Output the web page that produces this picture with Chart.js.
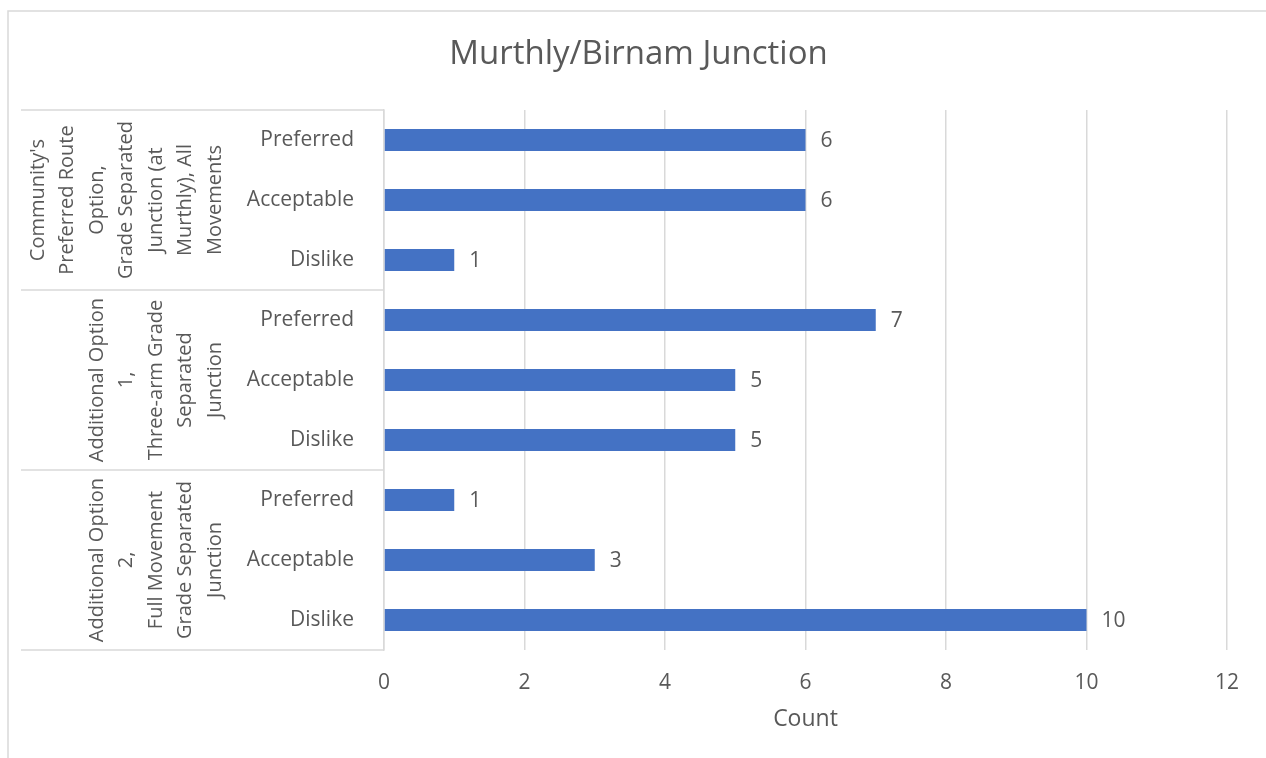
<!DOCTYPE html>
<html>
<head>
<meta charset="utf-8">
<script src="https://cdn.jsdelivr.net/npm/chart.js@4"></script>
<style>
    html, body { margin: 0; padding: 0; background: #fff; }
    #wrap { width: 1266px; height: 758px; position: relative; }
</style>
</head>
<body>
<div id="wrap"><canvas id="chart" width="1266" height="758"></canvas></div>
<script>
// Chart data
const groupNames = [
    ["Community's", "Preferred Route", "Option,", "Grade Separated", "Junction (at", "Murthly), All", "Movements"],
    ["Additional Option", "1,", "Three-arm Grade", "Separated", "Junction"],
    ["Additional Option", "2,", "Full Movement", "Grade Separated", "Junction"]
];
const responses = ["Preferred", "Acceptable", "Dislike"];
const counts = [6, 6, 1, 7, 5, 5, 1, 3, 10];
const xTicks = [0, 2, 4, 6, 8, 10, 12];

const FONT = "'Open Sans', Lato, sans-serif";
const TEXT = '#595959';
const LINE = '#d9d9d9';

// one row per group/response pair
const labels = [];
groupNames.forEach(() => responses.forEach(r => labels.push(r)));

// Outer frame, group boxes, rotated group labels and value labels
const extras = {
    id: 'extras',
    beforeDraw(chart) {
        const ctx = chart.ctx;
        ctx.save();
        ctx.strokeStyle = LINE;
        ctx.lineWidth = 1.5;
        ctx.strokeRect(8, 11, 1300, 800);
        ctx.restore();
    },
    afterDraw(chart) {
        const ctx = chart.ctx;
        const y = chart.scales.y;
        const left = chart.chartArea.left;
        const step = y.getPixelForValue(1) - y.getPixelForValue(0);
        ctx.save();
        ctx.strokeStyle = LINE;
        ctx.lineWidth = 1.5;
        // horizontal separators between groups
        for (let g = 0; g <= groupNames.length; g++) {
            const py = y.getPixelForValue(g * responses.length) - step / 2;
            ctx.beginPath();
            ctx.moveTo(21, py);
            ctx.lineTo(left, py);
            ctx.stroke();
        }
        // rotated group labels
        ctx.fillStyle = TEXT;
        ctx.font = '20px ' + FONT;
        ctx.textAlign = 'center';
        ctx.textBaseline = 'middle';
        groupNames.forEach((lines, g) => {
            const first = g * responses.length;
            const cy = (y.getPixelForValue(first) + y.getPixelForValue(first + responses.length - 1)) / 2;
            lines.forEach((txt, i) => {
                const cx = 215 - (lines.length - 1 - i) * 29.5;
                ctx.save();
                ctx.translate(cx, cy);
                ctx.rotate(-Math.PI / 2);
                ctx.fillText(txt, 0, 0);
                ctx.restore();
            });
        });
        // value labels at bar ends
        ctx.font = '21px ' + FONT;
        ctx.textAlign = 'left';
        const meta = chart.getDatasetMeta(0);
        meta.data.forEach((bar, i) => {
            ctx.fillText(counts[i], bar.x + 15, bar.y + 1);
        });
        ctx.restore();
    }
};

new Chart(document.getElementById('chart'), {
    type: 'bar',
    data: {
        labels: labels,
        datasets: [{
            data: counts,
            backgroundColor: '#4472C4',
            categoryPercentage: 1,
            barPercentage: 0.37
        }]
    },
    options: {
        indexAxis: 'y',
        responsive: false,
        animation: false,
        layout: { padding: { left: 50, right: 39, top: 0, bottom: 0 } },
        plugins: {
            legend: { display: false },
            tooltip: { enabled: false },
            title: {
                display: true,
                text: 'Murthly/Birnam Junction',
                color: TEXT,
                font: { family: FONT, size: 33, weight: 'normal' },
                padding: { top: 35, bottom: 35.4 }
            }
        },
        scales: {
            x: {
                min: 0,
                max: 12,
                afterBuildTicks: scale => { scale.ticks = xTicks.map(v => ({ value: v })); },
                afterFit: scale => { scale.height = 758 - 650; },
                grid: { color: LINE, lineWidth: 1.5, drawTicks: false },
                border: { display: false },
                ticks: { color: TEXT, font: { family: FONT, size: 21 }, padding: 20 },
                title: {
                    display: true,
                    text: 'Count',
                    color: TEXT,
                    font: { family: FONT, size: 23 },
                    padding: { top: 4, bottom: 25 }
                }
            },
            y: {
                afterFit: scale => { scale.width = 384 - 50; },
                grid: { display: false },
                border: { display: true, color: LINE, width: 1.5 },
                ticks: { color: TEXT, font: { family: FONT, size: 21 }, padding: 22 }
            }
        }
    },
    plugins: [extras]
});
</script>
</body>
</html>
